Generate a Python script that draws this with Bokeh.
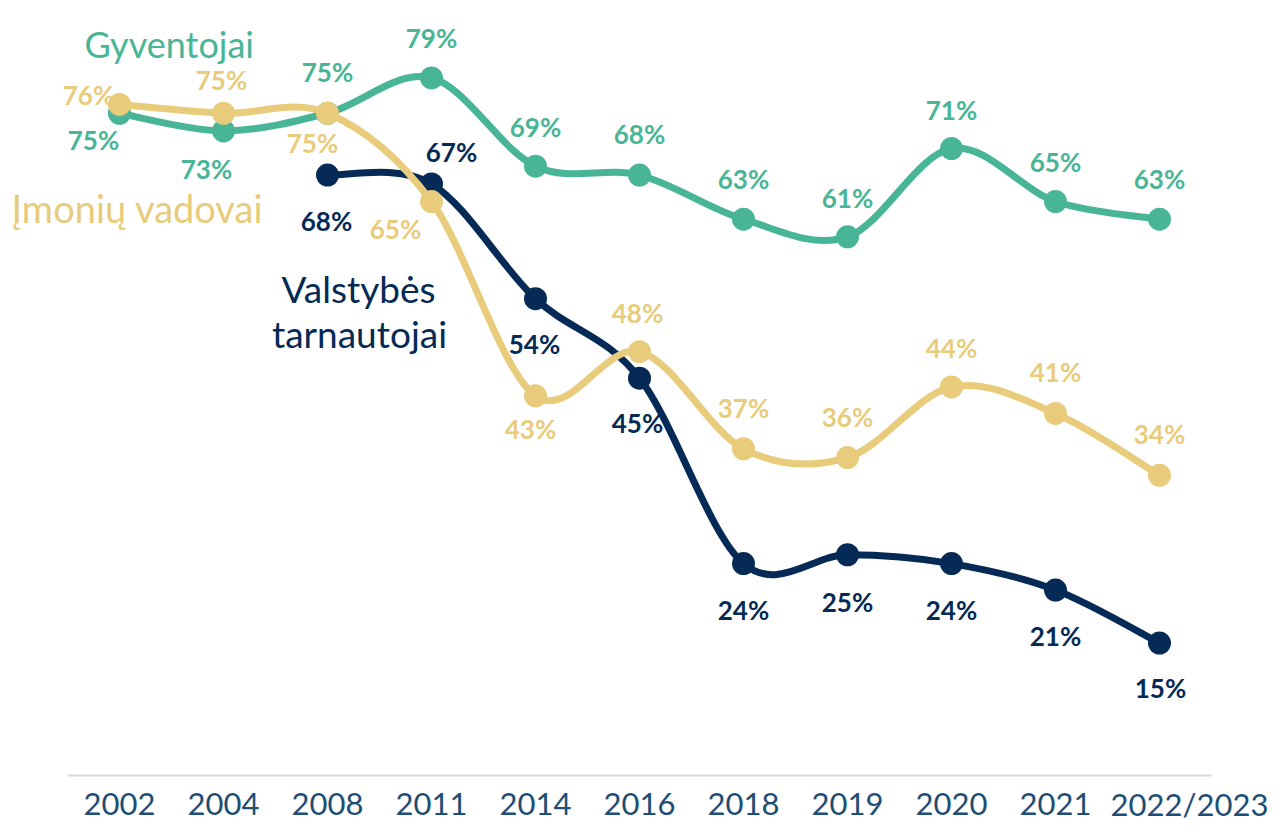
import numpy as np
from bokeh.plotting import figure
from bokeh.models import ColumnDataSource, LabelSet, Label, Range1d
from bokeh.core.properties import value
from bokeh.embed import file_html
from bokeh.resources import INLINE

years = ["2002", "2004", "2008", "2011", "2014", "2016", "2018", "2019", "2020", "2021", "2022/2023"]
gyventojai = [75, 73, 75, 79, 69, 68, 63, 61, 71, 65, 63]
vadovai = [76, 75, 75, 65, 43, 48, 37, 36, 44, 41, 34]
tarnautojai = [None, None, 68, 67, 54, 45, 24, 25, 24, 21, 15]

GREEN = "#49B597"
YELLOW = "#E8CB7B"
NAVY = "#052A56"
TICK = "#1D4E74"
FONT = "Lato"

# label placement offsets (px): dx, dy (dy > 0 = above)
g_off = [(-26, -27), (-17, -38), (0, 41), (0, 40), (0, 39), (0, 41), (0, 40), (0, 39), (0, 39), (0, 40), (0, 40)]
v_off = [(-31, 9), (-2, 33), (-15, -30), (-36, -27), (-5, -33), (-2, 39), (0, 41), (0, 41), (0, 39), (0, 41), (0, 41)]
t_off = [(0, 0), (0, 0), (-1, -46), (20, 32), (-1, -45), (-2, -45), (0, -46), (0, -47), (0, -46), (0, -46), (1, -45)]
year_dx = [0, 0, 0, 0, 0, 0, 0, 0, 0, 0, 30]

W, H = 1270, 823
STEP = 104.0      # px per category
X0 = 119.0        # px of first category centre
Y0 = 775.0        # px of value 0
PPU = 8.83        # px per percentage point

p = figure(width=W, height=H,
           x_range=Range1d(-X0 / STEP, (W - X0) / STEP),
           y_range=Range1d(-(H - Y0) / PPU, Y0 / PPU),
           output_backend="svg", toolbar_location=None,
           min_border_left=0, min_border_right=0, min_border_top=0, min_border_bottom=0)
p.background_fill_color = "white"
p.border_fill_color = "white"
p.outline_line_color = None
p.xgrid.visible = False
p.ygrid.visible = False
p.xaxis.visible = False
p.yaxis.visible = False

n = len(years)
# category axis baseline and year labels
p.segment(x0=[-0.5], y0=[0], x1=[n - 0.5], y1=[0], line_color="#D9D9D9", line_width=2)
p.text(x=list(range(n)), y=[0] * n, text=years, x_offset=year_dx, y_offset=[28] * n,
       text_font=value(FONT), text_font_size="31px", text_color=TICK,
       text_align="center", text_baseline="alphabetic")


def bezier_source(vals):
    idx = [i for i, v in enumerate(vals) if v is not None]
    pts = [(float(i), float(vals[i])) for i in idx]
    m = len(pts)
    d = dict(x0=[], y0=[], x1=[], y1=[], cx0=[], cy0=[], cx1=[], cy1=[])
    for k in range(m - 1):
        p0 = pts[k - 1] if k > 0 else pts[k]
        p1 = pts[k]
        p2 = pts[k + 1]
        p3 = pts[k + 2] if k + 2 < m else pts[k + 1]
        d["x0"].append(p1[0]); d["y0"].append(p1[1])
        d["x1"].append(p2[0]); d["y1"].append(p2[1])
        d["cx0"].append(p1[0] + (p2[0] - p0[0]) / 6); d["cy0"].append(p1[1] + (p2[1] - p0[1]) / 6)
        d["cx1"].append(p2[0] - (p3[0] - p1[0]) / 6); d["cy1"].append(p2[1] - (p3[1] - p1[1]) / 6)
    return ColumnDataSource(d), idx


def add_labels(vals, offs, color):
    idx = [i for i, v in enumerate(vals) if v is not None]
    src = ColumnDataSource(dict(
        x=[float(i) for i in idx], y=[float(vals[i]) for i in idx],
        t=[f"{vals[i]}%" for i in idx],
        dx=[offs[i][0] for i in idx], dy=[offs[i][1] for i in idx]))
    ls = LabelSet(x="x", y="y", text="t", source=src, x_offset="dx", y_offset="dy",
                  text_align="center", text_baseline="middle", text_font=value(FONT),
                  text_font_size="26px", text_font_style="bold", text_color=color, level="underlay")
    p.add_layout(ls)


add_labels(gyventojai, g_off, GREEN)
add_labels(tarnautojai, t_off, NAVY)
add_labels(vadovai, v_off, YELLOW)

for vals, color in [(gyventojai, GREEN), (tarnautojai, NAVY), (vadovai, YELLOW)]:
    src, idx = bezier_source(vals)
    p.bezier(x0="x0", y0="y0", x1="x1", y1="y1", cx0="cx0", cy0="cy0", cx1="cx1", cy1="cy1",
             source=src, line_color=color, line_width=7, line_cap="round")
    p.scatter([float(i) for i in idx], [float(vals[i]) for i in idx], size=23,
              fill_color=color, line_color=None)


def px_x(px):
    return (px - X0) / STEP


def px_y(py):
    return (Y0 - py) / PPU


name_style = dict(text_font=FONT, text_baseline="alphabetic")
p.add_layout(Label(x=px_x(84), y=px_y(43), text="Gyventojai", text_align="left", text_color=GREEN,
                   text_font_size="36px", **name_style))
p.add_layout(Label(x=px_x(11), y=px_y(207), text="Įmonių vadovai", text_align="left", text_color=YELLOW,
                   text_font_size="38px", **name_style))
p.add_layout(Label(x=px_x(358), y=px_y(288), text="Valstybės", text_align="center", text_color=NAVY,
                   text_font_size="37px", **name_style))
p.add_layout(Label(x=px_x(359), y=px_y(333), text="tarnautojai", text_align="center", text_color=NAVY,
                   text_font_size="37px", **name_style))

open("out.html", "w").write(file_html(p, INLINE))
